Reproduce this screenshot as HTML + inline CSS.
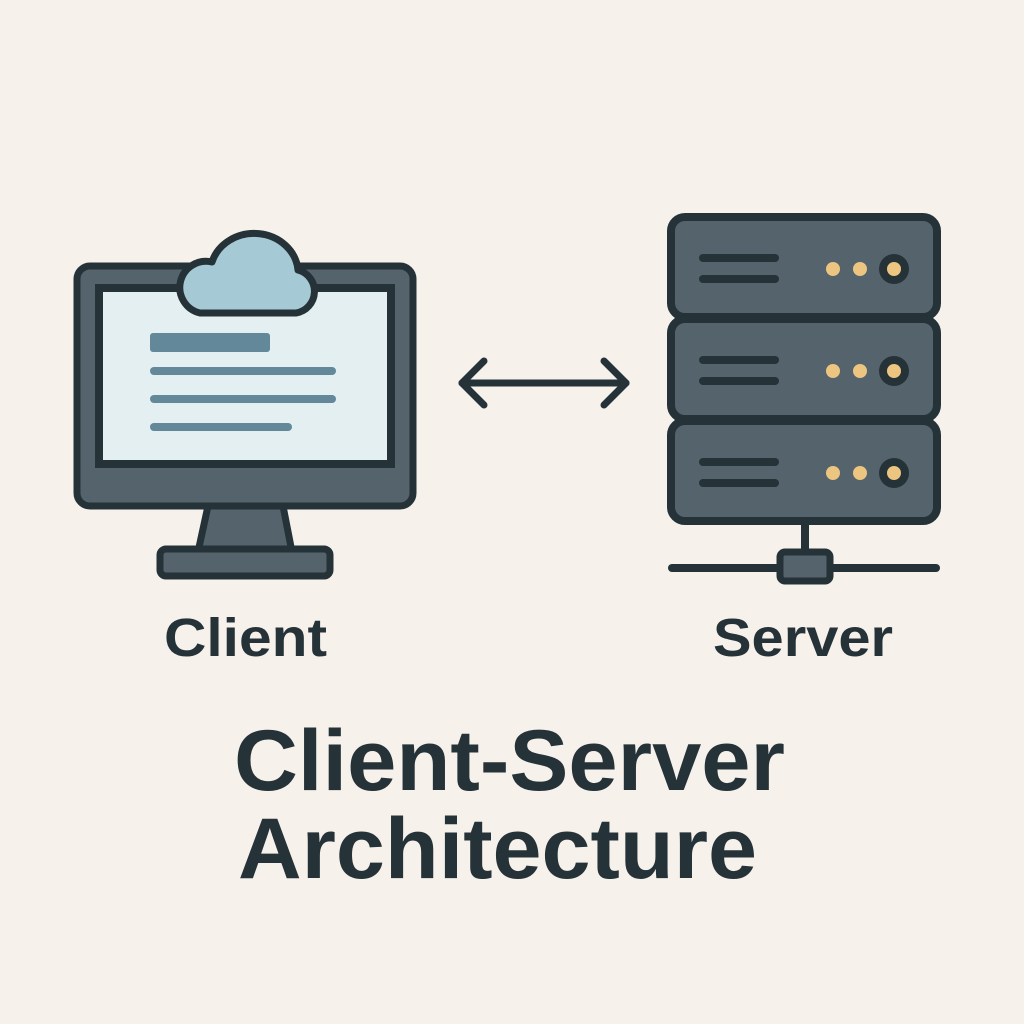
<!DOCTYPE html>
<html><head><style>
html,body{margin:0;padding:0;background:#f7f1ec;}
svg{display:block}
</style></head><body>
<svg width="1024" height="1024" viewBox="0 0 1024 1024" xmlns="http://www.w3.org/2000/svg">
<rect width="1024" height="1024" fill="#f7f1ec"/>
<!-- monitor -->
<polygon points="208,506 283,506 292,552 198,552" fill="#55636c" stroke="#253238" stroke-width="7" stroke-linejoin="round"/>
<rect x="160" y="549" width="170" height="27" rx="6" fill="#55636c" stroke="#253238" stroke-width="7"/>
<rect x="77" y="266" width="336" height="240" rx="13" fill="#55636c" stroke="#253238" stroke-width="7"/>
<rect x="99" y="288" width="292" height="176" fill="#e4eff2" stroke="#253238" stroke-width="8"/>
<rect x="150" y="333" width="120" height="19" rx="3" fill="#62889a"/>
<line x1="154" y1="371" x2="332" y2="371" stroke="#62889a" stroke-width="8" stroke-linecap="round"/>
<line x1="154" y1="399" x2="332" y2="399" stroke="#62889a" stroke-width="8" stroke-linecap="round"/>
<line x1="154" y1="427" x2="288" y2="427" stroke="#62889a" stroke-width="8" stroke-linecap="round"/>
<path d="M200,313 H296 A22,22 0 0 0 298,270 A44,40 0 0 0 212,262 A26,26 0 0 0 200,313 Z" fill="#a5cad6" stroke="#253238" stroke-width="7" stroke-linejoin="round"/>
<!-- arrow -->
<g stroke="#253238" stroke-width="7" stroke-linecap="round" stroke-linejoin="round" fill="none">
<line x1="462" y1="383" x2="626" y2="383"/>
<polyline points="484,361 462,383 484,405"/>
<polyline points="604,361 626,383 604,405"/>
</g>
<!-- server -->
<line x1="805" y1="522" x2="805" y2="552" stroke="#253238" stroke-width="8"/>
<line x1="672" y1="568" x2="936" y2="568" stroke="#253238" stroke-width="8" stroke-linecap="round"/>
<rect x="780" y="552" width="50" height="29" rx="5" fill="#55636c" stroke="#253238" stroke-width="7"/>
<g id="u">
<rect x="671" y="217" width="266" height="100" rx="14" fill="#55636c" stroke="#253238" stroke-width="8"/>
<line x1="703" y1="258" x2="775" y2="258" stroke="#253238" stroke-width="8" stroke-linecap="round"/>
<line x1="703" y1="279" x2="775" y2="279" stroke="#253238" stroke-width="8" stroke-linecap="round"/>
<circle cx="833" cy="269" r="7" fill="#ecc581"/>
<circle cx="860" cy="269" r="7" fill="#ecc581"/>
<circle cx="894" cy="269" r="15" fill="#253238"/>
<circle cx="894" cy="269" r="7" fill="#ecc581"/>
</g>
<use href="#u" y="102"/>
<use href="#u" y="204"/>
<!-- text -->
<g font-family="'Liberation Sans',sans-serif" fill="#253238">
<text x="164" y="656" font-size="54" font-weight="bold" textLength="163" lengthAdjust="spacingAndGlyphs">Client</text>
<text x="713" y="656" font-size="54" font-weight="bold" textLength="180" lengthAdjust="spacingAndGlyphs">Server</text>
<text x="234" y="790" font-size="86" font-weight="bold" textLength="551" lengthAdjust="spacingAndGlyphs">Client-Server</text>
<text x="238" y="878" font-size="86" font-weight="bold" textLength="519" lengthAdjust="spacingAndGlyphs">Architecture</text>
</g>
</svg>
</body></html>
